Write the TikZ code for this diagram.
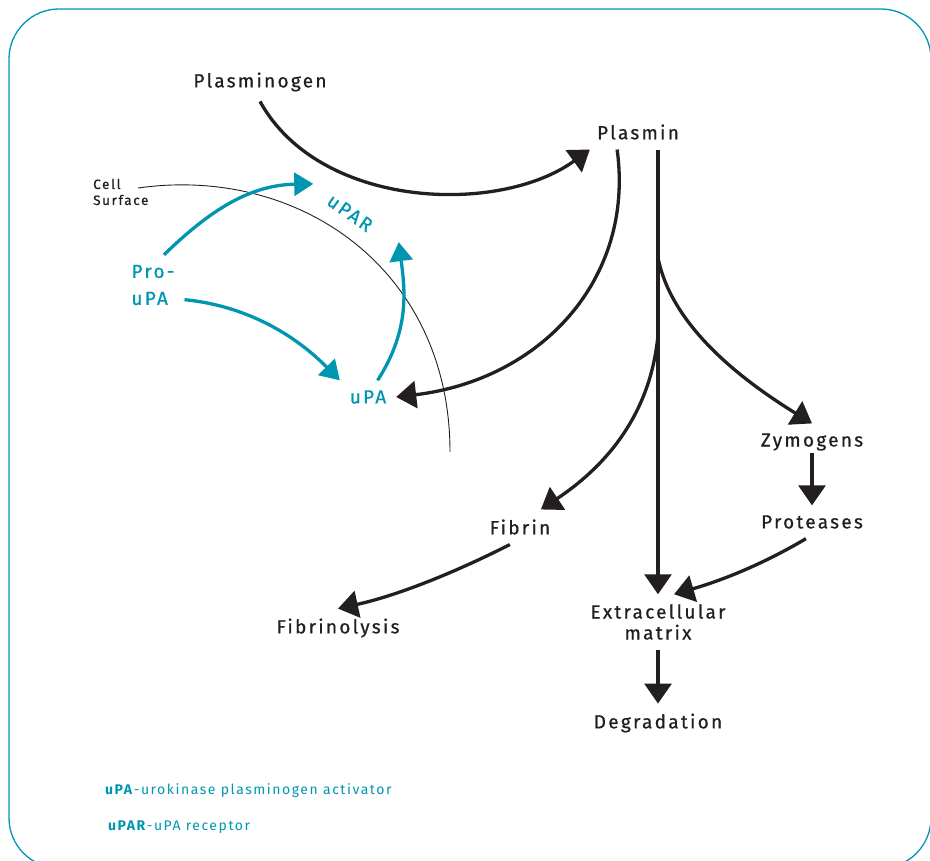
\documentclass[tikz,border=0pt]{standalone}
\usepackage{fontspec}
\setmainfont{Fira Sans}
\newfontfamily\labelfont[LetterSpace=12,FakeBold=0.7]{Fira Sans}
\newfontfamily\keyfont[LetterSpace=11]{Fira Sans}
\usetikzlibrary{arrows.meta,calc}
\definecolor{upablue}{RGB}{0,150,178}
\definecolor{inkblack}{RGB}{35,31,32}

\begin{document}
\begin{tikzpicture}[x=1pt,y=-1pt,
  lbl/.style={font=\fontsize{19}{21}\selectfont\labelfont,text=inkblack,inner sep=6pt,outer sep=4pt},
  bluelbl/.style={lbl,text=upablue},
  blk/.style={draw=inkblack,line width=3.3pt,-{Triangle[length=20pt,width=27pt]}},
  blu/.style={draw=upablue,line width=3.3pt,-{Triangle[length=19pt,width=23pt]}},
  keytext/.style={font=\fontsize{14}{16}\selectfont\keyfont,text=upablue,anchor=west,inner sep=0pt}]
\clip (0,0) rectangle (930,861);
\draw [upablue,line width=1.3pt,rounded corners=50pt] (9,9) rectangle (931,868);

% labels
\node [lbl] (plasminogen) at (260,82) {Plasminogen};
\node [lbl] (plasmin) at (638,132) {Plasmin};
\node [bluelbl,align=left] (proupa) at (153,285) {Pro-\\[6pt]uPA};
\node [bluelbl] (upa) at (368,397) {uPA};
\node [bluelbl,rotate=-35] (upar) at (350,213) {uPAR};
\node [lbl] (zymogens) at (812,442) {Zymogens};
\node [lbl] (proteases) at (812,522) {Proteases};
\node [lbl] (fibrin) at (520,527) {Fibrin};
\node [lbl] (fibrinolysis) at (338,628) {Fibrinolysis};
\node [lbl,align=center] (ecm) at (658,622) {Extracellular\\matrix};
\node [lbl] (degradation) at (658,723) {Degradation};
\node [font=\fontsize{13.5}{16}\selectfont\labelfont,text=inkblack,align=left,anchor=west,inner sep=0pt] (cellsurf) at (93,192) {Cell\\Surface};

% membrane
\draw [inkblack,line width=0.9pt] (138,188) .. controls (300,165) and (450,270) .. (450,452);

% plasmin pathway
\draw [blk] (plasminogen.south) .. controls (320,210) and (500,215) .. (plasmin.-160);
\draw [blk] (plasmin.-140) .. controls (635,280) and (540,380) .. (upa.east);
\draw [blk] (plasmin.south -| ecm.north) -- coordinate[pos=0.243] (fork1) coordinate[pos=0.417] (fork2) (ecm.north);
\draw [blk] (fork1) .. controls (672,330) and (750,385) .. (zymogens.north);
\draw [blk] (fork2) .. controls (650,420) and (600,470) .. (fibrin.40);
\draw [blk,shorten <=-8pt] (zymogens.south) -- (proteases.north);
\draw [blk] (proteases.-110) .. controls (770,560) and (730,578) .. (ecm.60);
\draw [blk] (fibrin.-120) .. controls (460,570) and (400,595) .. (fibrinolysis.north);
\draw [blk] (ecm.south) -- (degradation.north);

% activation of uPA
\draw [blu] (proupa.70) .. controls (210,210) and (250,185) .. ([shift={(-8,-9)}]upar.west);
\draw [blu] (proupa.-25) .. controls (240,305) and (290,330) .. (upa.north west);
\draw [blu] (upa.60) .. controls (410,330) and (405,290) .. ([shift={(20,9)}]upar.east);

% key
\node [keytext] (keyupa) at (105,791) {\textbf{uPA}-urokinase plasminogen activator};
\node [keytext] (keyupar) at (108,827) {\textbf{uPAR}-uPA receptor};
\end{tikzpicture}
\end{document}
